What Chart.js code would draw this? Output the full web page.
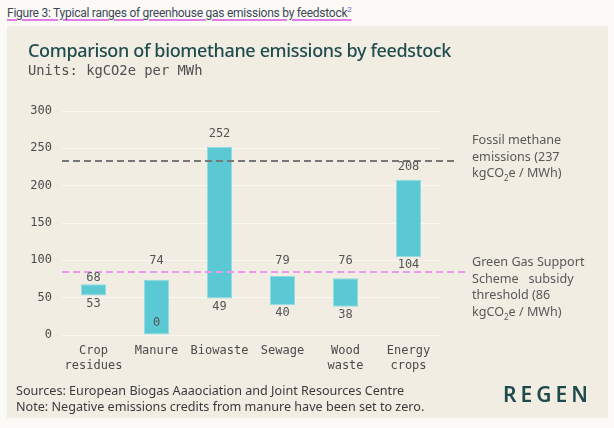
<!DOCTYPE html>
<html>
<head>
<meta charset="utf-8">
<script src="https://cdn.jsdelivr.net/npm/chart.js@4"></script>
<style>
  html, body { margin: 0; padding: 0; }
  body { width: 614px; height: 428px; background: #fbfaf6; position: relative; overflow: hidden; font-family: "Noto Sans", sans-serif; }
  .abs { position: absolute; white-space: nowrap; }
  #caption { left: 7px; top: 1px; font: 12px "Roboto", sans-serif; letter-spacing: -0.25px; color: #3b4859; text-decoration: underline; text-decoration-color: #e07ce6; text-decoration-thickness: 1.5px; text-underline-offset: 2px; line-height: 17px; }
  #caption sup { font-size: 8px; color: #7b5fd0; }
  #panel { left: 7px; top: 26px; width: 601px; height: 392px; background: #f1ede3; }
  #title { left: 28px; top: 39px; font-size: 18px; font-weight: 500; letter-spacing: -0.35px; color: #1f4c4d; line-height: 22px; }
  #subtitle { left: 28px; top: 62px; font: 13.8px "DejaVu Sans Mono", monospace; color: #4f4f4f; line-height: 16px; }
  .note { left: 472px; font-size: 12.6px; color: #585858; line-height: 16.5px; }
  .note sub { font-size: 8px; }
  #fossilNote { top: 132px; }
  #subsidyNote { top: 254px; }
  #footer { left: 16px; top: 383px; font-size: 12.6px; color: #3a3a3a; line-height: 16px; }
  #logo { left: 503px; top: 382px; font-size: 21px; font-weight: 600; letter-spacing: 4px; color: #1e4a4b; line-height: 24px; }
  canvas { position: absolute; left: 0; top: 0; }
</style>
</head>
<body>
<div id="caption" class="abs">Figure 3: Typical ranges of greenhouse gas emissions by feedstock<sup>2</sup></div>
<div id="panel" class="abs"></div>
<canvas id="chart" width="614" height="428"></canvas>
<div id="title" class="abs">Comparison of biomethane emissions by feedstock</div>
<div id="subtitle" class="abs">Units: kgCO2e per MWh</div>
<div id="fossilNote" class="abs note">Fossil methane<br>emissions (237<br>kgCO<sub>2</sub>e / MWh)</div>
<div id="subsidyNote" class="abs note">Green Gas Support<br>Scheme&nbsp;&nbsp; subsidy<br>threshold (86<br>kgCO<sub>2</sub>e / MWh)</div>
<div id="footer" class="abs">Sources: European Biogas Aaaociation and Joint Resources Centre<br>Note: Negative emissions credits from manure have been set to zero.</div>
<div id="logo" class="abs">REGEN</div>
<script>
const categories = [["Crop", "residues"], "Manure", "Biowaste", "Sewage", ["Wood", "waste"], ["Energy", "crops"]];
const lowValues = [53, 0, 49, 40, 38, 104];
const highValues = [68, 74, 252, 79, 76, 208];
const yTicks = [0, 50, 100, 150, 200, 250, 300];
const fossilLevel = 233;   // where the grey line sits in the picture
const subsidyLevel = 85;   // where the pink line sits

const monoFont = '"DejaVu Sans Mono", monospace';

const overlay = {
    id: "overlay",
    afterDatasetsDraw(chart) {
        const { ctx, chartArea, scales: { y } } = chart;

        function dash(value, color, extra) {
            const py = Math.round(y.getPixelForValue(value));
            ctx.save();
            ctx.strokeStyle = color;
            ctx.lineWidth = 2;
            ctx.setLineDash([7, 4]);
            ctx.beginPath();
            ctx.moveTo(chartArea.left, py);
            ctx.lineTo(chartArea.right + extra, py);
            ctx.stroke();
            ctx.restore();
        }
        dash(fossilLevel, "#777777", 15);
        dash(subsidyLevel, "#e79af0", 25);

        const lineY = y.getPixelForValue(subsidyLevel);
        const meta = chart.getDatasetMeta(0);
        ctx.save();
        ctx.font = "12px " + monoFont;
        ctx.fillStyle = "#555555";
        ctx.textAlign = "center";
        ctx.textBaseline = "middle";
        meta.data.forEach((bar, i) => {
            // top value, kept clear of the threshold line
            let ty = bar.y - 13;
            if (Math.abs(ty - lineY) < 10) {
                const below = lineY + 6;
                ty = (below + 5 <= bar.y - 1) ? below : lineY - 11;
            }
            ctx.fillText(String(highValues[i]), bar.x, ty);

            // bottom value, inside the bar when it sits on the axis
            const by = lowValues[i] === 0 ? bar.base - 12 : bar.base + 8;
            ctx.fillText(String(lowValues[i]), bar.x, by);
        });
        ctx.restore();
    }
};

new Chart(document.getElementById("chart"), {
    type: "bar",
    data: {
        labels: categories,
        datasets: [{
            data: lowValues.map((lo, i) => [lo, highValues[i]]),
            backgroundColor: "#5bc9d3",
            borderColor: "#8fdbe2",
            borderWidth: 1,
            borderSkipped: false,
            barPercentage: 0.4,
            categoryPercentage: 1
        }]
    },
    options: {
        responsive: false,
        animation: false,
        devicePixelRatio: 1,
        layout: { padding: { top: 111, right: 174, bottom: 43, left: 0 } },
        plugins: {
            legend: { display: false },
            tooltip: { enabled: false }
        },
        scales: {
            x: {
                grid: { display: false, drawTicks: false },
                border: { display: false },
                ticks: {
                    padding: 8,
                    color: "#4a4a4a",
                    font: { family: monoFont, size: 12, lineHeight: 1.25 },
                    maxRotation: 0,
                    autoSkip: false
                },
                afterFit: (s) => { s.height = 50; }
            },
            y: {
                min: 0,
                max: 300,
                grid: { color: "#faf8f3", lineWidth: 1, drawTicks: false },
                border: { display: false },
                ticks: {
                    padding: 10,
                    color: "#4a4a4a",
                    font: { family: monoFont, size: 12 }
                },
                afterBuildTicks: (s) => { s.ticks = yTicks.map(v => ({ value: v })); },
                afterFit: (s) => { s.width = 62; }
            }
        }
    },
    plugins: [overlay]
});
</script>
</body>
</html>
